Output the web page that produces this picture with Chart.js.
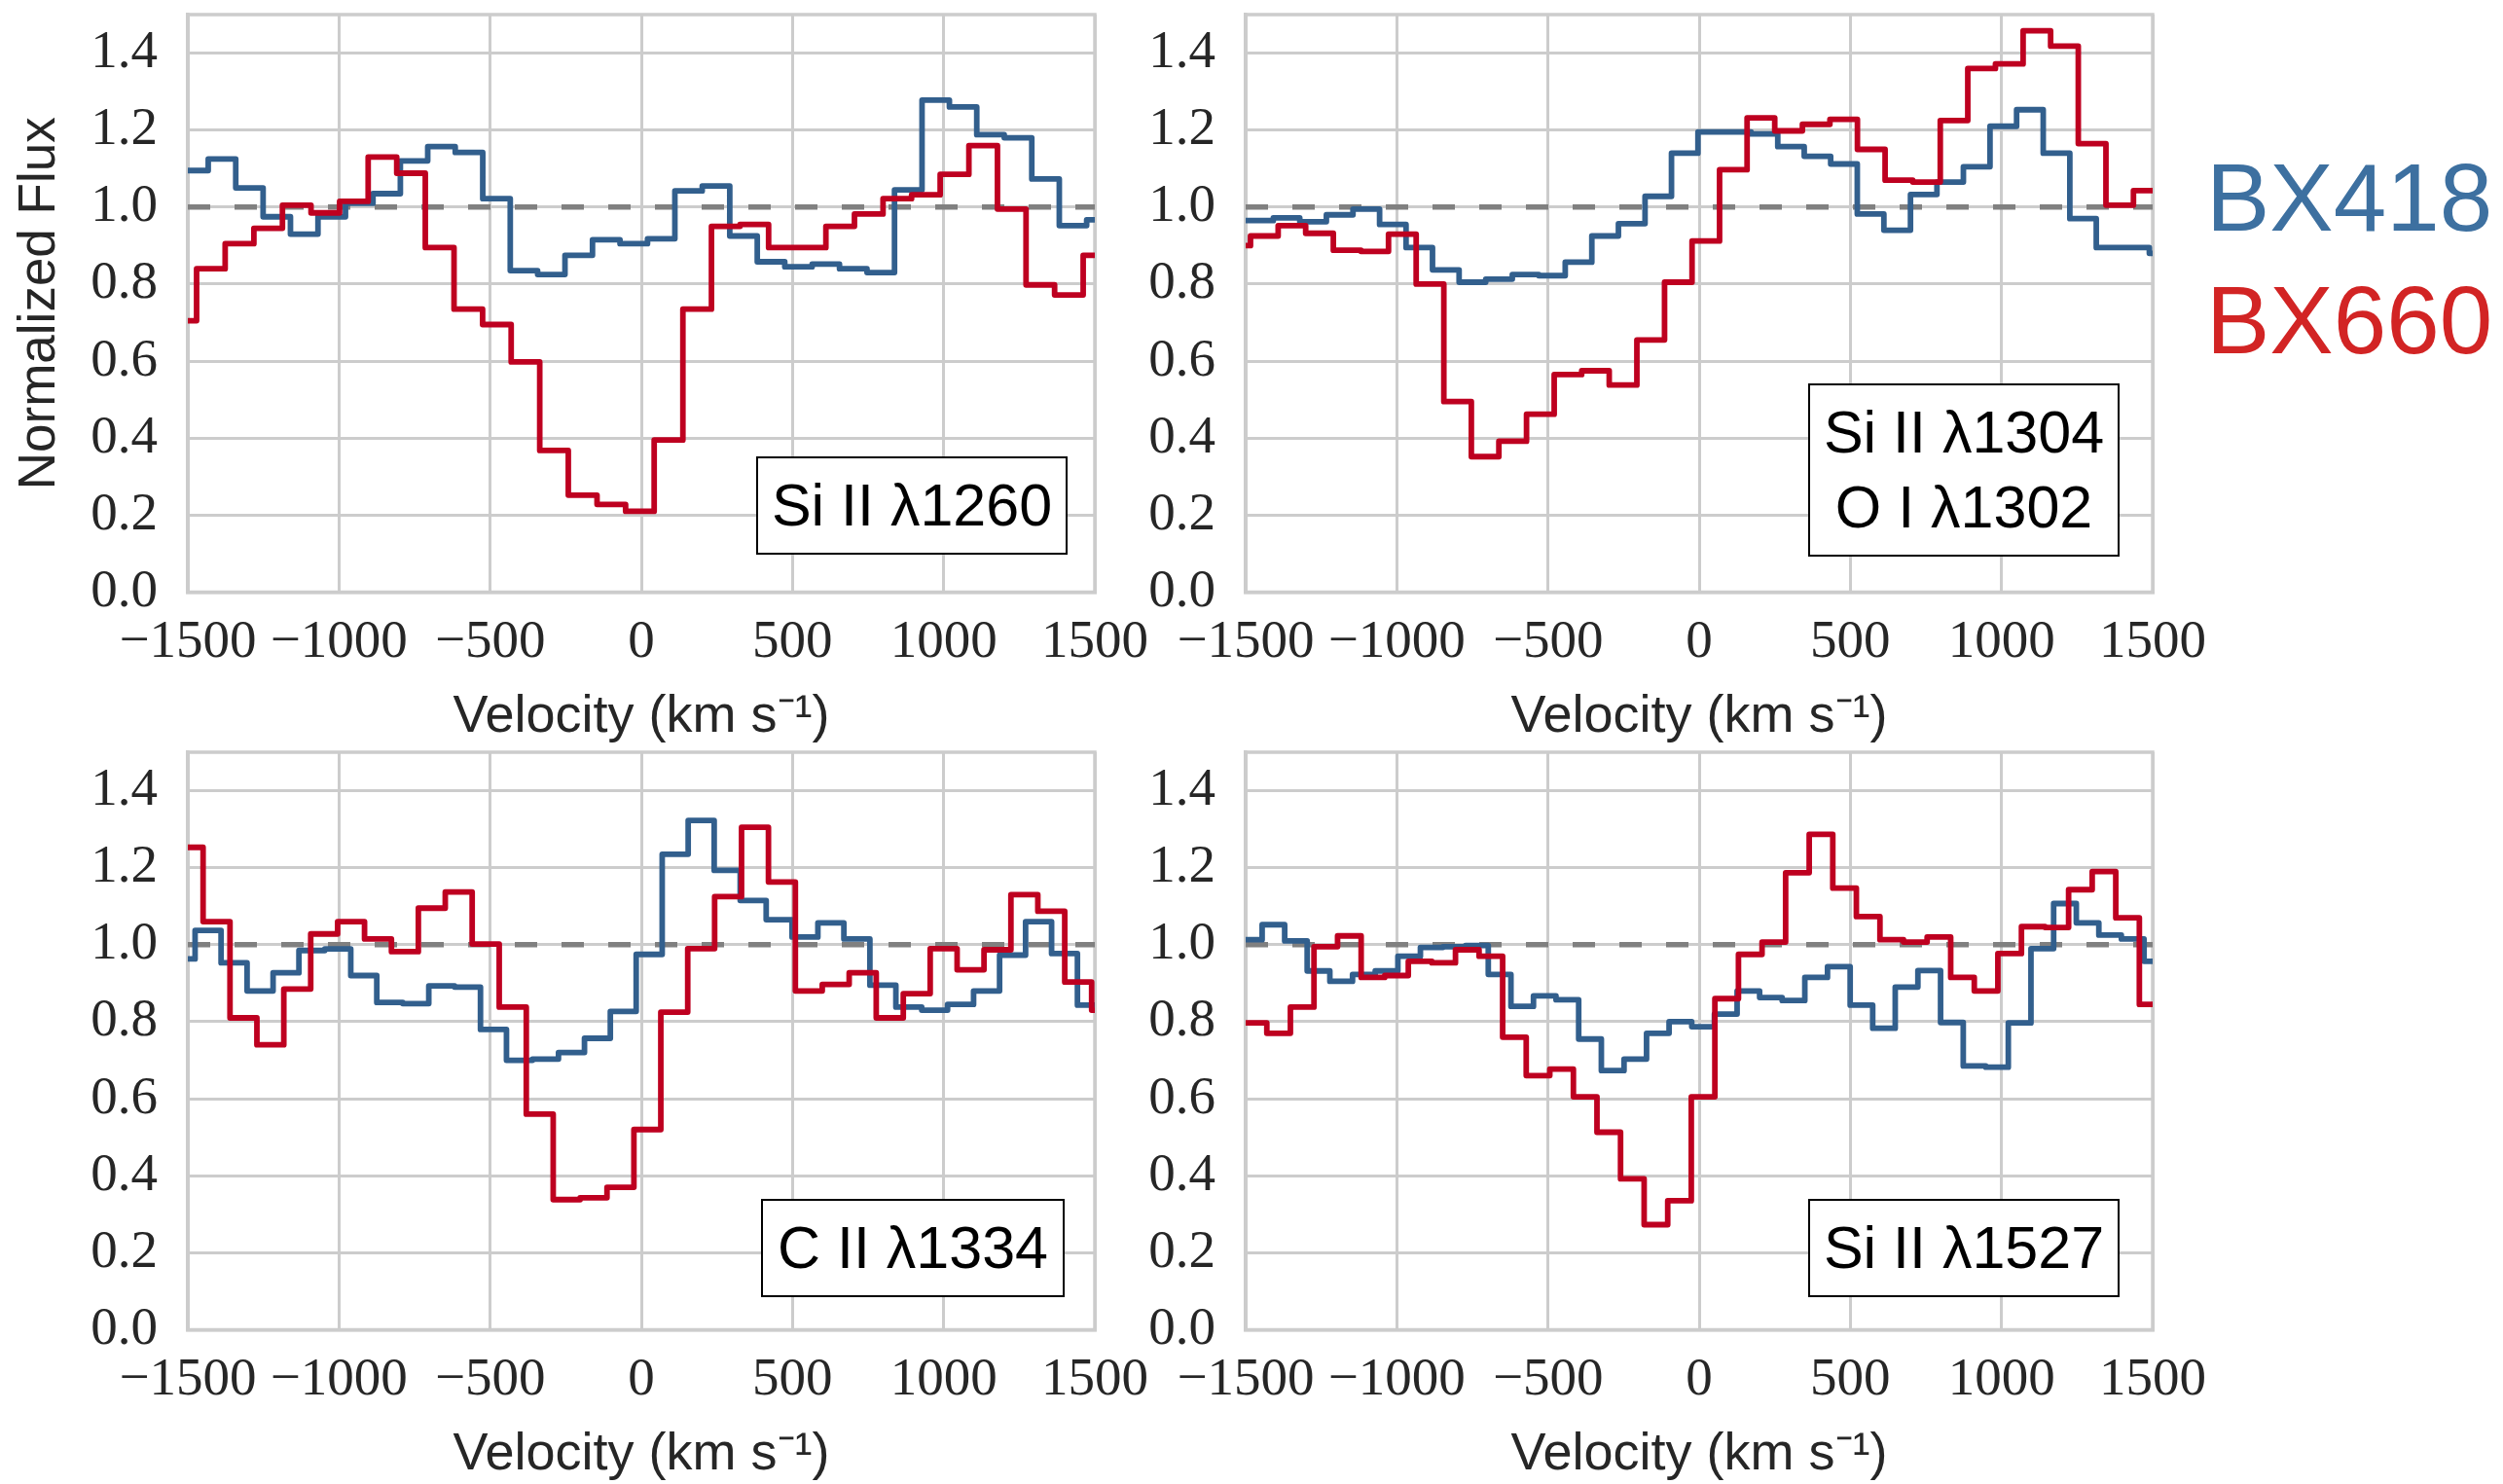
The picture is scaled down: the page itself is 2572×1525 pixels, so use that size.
<!DOCTYPE html>
<html>
<head>
<meta charset="utf-8">
<title>BX418 / BX660 low-ionization absorption profiles</title>
<script src="https://cdn.jsdelivr.net/npm/chart.js@4.4.1/dist/chart.umd.min.js"></script>
<style>
  html, body { margin: 0; padding: 0; background: #fff; overflow: hidden; }
  .panel { position: absolute; width: 1205px; height: 780px; }
  .ion {
    position: absolute; box-sizing: border-box; border: 2px solid #000; background: #fff;
    font-family: "Liberation Sans", Arial, sans-serif; font-size: 61px; line-height: 77px; color: #000;
    display: flex; flex-direction: column; align-items: center; justify-content: center;
  }
  .gal { position: absolute; left: 2267px; font-family: "Liberation Sans", Arial, sans-serif; font-size: 98px; line-height: 98px; }
</style>
</head>
<body>
<div class="panel" style="left:0px;top:0px"><canvas id="c1260"></canvas></div>
<div class="panel" style="left:1087px;top:0px"><canvas id="c1304"></canvas></div>
<div class="panel" style="left:0px;top:758px"><canvas id="c1334"></canvas></div>
<div class="panel" style="left:1087px;top:758px"><canvas id="c1527"></canvas></div>

<div class="ion" style="left:777px;top:469px;width:320px;height:101px"><div>Si II λ1260</div></div>
<div class="ion" style="left:1858px;top:394px;width:320px;height:178px"><div>Si II λ1304</div><div>O I λ1302</div></div>
<div class="ion" style="left:782px;top:1232px;width:312px;height:101px"><div>C II λ1334</div></div>
<div class="ion" style="left:1858px;top:1232px;width:320px;height:101px"><div>Si II λ1527</div></div>

<div class="gal" style="top:154px;color:#3d70a0">BX418</div>
<div class="gal" style="top:280px;color:#d22424">BX660</div>

<script>
const velTicks = [-1500, -1000, -500, 0, 500, 1000, 1500];
const fluxTicks = [0.0, 0.2, 0.4, 0.6, 0.8, 1.0, 1.2, 1.4];
const continuumVel = [-1500, 1500];
const continuumFlux = [1.0, 1.0];
const galaxies = ['BX418', 'BX660'];

// bin centres (km/s) and normalized flux

// Si II 1260
const vel1260_418 = [-1569, -1478, -1387, -1296, -1206, -1115, -1024, -933, -842, -752, -661, -570, -479, -388, -298, -207, -116, -25, 66, 156, 247, 338, 429, 520, 610, 701, 792, 883, 974, 1064, 1155, 1246, 1337, 1428, 1518];
const flux1260_418 = [1.095, 1.095, 1.125, 1.05, 0.975, 0.93, 0.975, 1.01, 1.035, 1.12, 1.157, 1.142, 1.022, 0.835, 0.825, 0.875, 0.915, 0.905, 0.918, 1.042, 1.055, 0.925, 0.858, 0.845, 0.852, 0.84, 0.83, 1.045, 1.278, 1.26, 1.188, 1.18, 1.073, 0.952, 0.967];
const vel1260_660 = [-1518, -1424, -1329, -1234, -1140, -1045, -951, -856, -762, -667, -572, -478, -383, -289, -194, -99, -5, 90, 185, 279, 374, 468, 563, 658, 752, 847, 941, 1036, 1131, 1225, 1320, 1414, 1509];
const flux1260_660 = [0.705, 0.84, 0.905, 0.945, 1.005, 0.985, 1.015, 1.13, 1.088, 0.895, 0.735, 0.695, 0.598, 0.368, 0.252, 0.228, 0.21, 0.395, 0.735, 0.95, 0.955, 0.895, 0.895, 0.95, 0.982, 1.022, 1.032, 1.085, 1.16, 0.995, 0.798, 0.772, 0.875];

// Si II 1304 / O I 1302
const vel1304_418 = [-1540, -1452, -1365, -1277, -1189, -1101, -1013, -926, -838, -750, -662, -574, -487, -399, -311, -223, -135, -48, 40, 128, 216, 304, 391, 479, 567, 655, 743, 830, 918, 1006, 1094, 1182, 1270, 1357, 1445, 1533];
const flux1304_418 = [0.965, 0.965, 0.972, 0.962, 0.98, 0.995, 0.955, 0.895, 0.837, 0.805, 0.813, 0.825, 0.822, 0.857, 0.925, 0.957, 1.028, 1.14, 1.195, 1.195, 1.19, 1.157, 1.132, 1.112, 0.982, 0.94, 1.033, 1.065, 1.105, 1.21, 1.253, 1.14, 0.97, 0.895, 0.895, 0.88];
const vel1304_660 = [-1530, -1438, -1347, -1256, -1164, -1073, -982, -890, -799, -708, -617, -525, -434, -343, -252, -160, -69, 22, 113, 204, 296, 387, 478, 569, 661, 752, 843, 934, 1026, 1117, 1208, 1300, 1391, 1482, 1574];
const flux1304_660 = [0.90, 0.925, 0.952, 0.932, 0.888, 0.885, 0.93, 0.80, 0.495, 0.352, 0.392, 0.462, 0.565, 0.575, 0.538, 0.655, 0.805, 0.912, 1.097, 1.232, 1.198, 1.215, 1.228, 1.15, 1.07, 1.065, 1.225, 1.36, 1.372, 1.458, 1.418, 1.165, 1.005, 1.043, 1.043];

// C II 1334
const vel1334_418 = [-1519, -1433, -1347, -1261, -1175, -1090, -1004, -918, -832, -746, -660, -575, -489, -403, -317, -231, -145, -60, 26, 112, 198, 284, 370, 456, 541, 627, 713, 799, 885, 970, 1056, 1142, 1228, 1314, 1400, 1485, 1571];
const flux1334_418 = [0.963, 1.037, 0.953, 0.88, 0.927, 0.985, 0.989, 0.92, 0.85, 0.847, 0.893, 0.89, 0.78, 0.70, 0.703, 0.72, 0.757, 0.827, 0.975, 1.235, 1.323, 1.193, 1.115, 1.065, 1.02, 1.057, 1.015, 0.895, 0.838, 0.83, 0.845, 0.88, 0.973, 1.06, 0.977, 0.843, 0.843];
const vel1334_660 = [-1583, -1494, -1405, -1316, -1227, -1138, -1049, -960, -871, -782, -693, -604, -515, -425, -336, -247, -158, -69, 20, 109, 198, 287, 376, 465, 554, 643, 732, 822, 911, 1000, 1089, 1178, 1267, 1356, 1445, 1534];
const flux1334_660 = [1.253, 1.253, 1.06, 0.81, 0.74, 0.885, 1.028, 1.06, 1.015, 0.982, 1.095, 1.137, 1.002, 0.838, 0.56, 0.338, 0.343, 0.37, 0.52, 0.825, 0.99, 1.125, 1.305, 1.163, 0.88, 0.897, 0.927, 0.81, 0.873, 0.99, 0.935, 0.987, 1.13, 1.087, 0.903, 0.83];

// Si II 1527
const vel1527_418 = [-1558, -1483, -1408, -1334, -1259, -1184, -1109, -1034, -959, -885, -810, -735, -660, -585, -511, -436, -361, -286, -211, -137, -62, 13, 88, 163, 237, 312, 387, 462, 537, 611, 686, 761, 836, 911, 985, 1060, 1135, 1210, 1285, 1359, 1434, 1509];
const flux1527_418 = [1.013, 1.013, 1.052, 1.01, 0.932, 0.905, 0.923, 0.932, 0.97, 0.993, 0.995, 0.998, 0.923, 0.84, 0.867, 0.857, 0.755, 0.673, 0.703, 0.77, 0.80, 0.787, 0.82, 0.88, 0.863, 0.855, 0.915, 0.943, 0.843, 0.783, 0.89, 0.933, 0.798, 0.685, 0.682, 0.797, 0.99, 1.107, 1.057, 1.025, 1.015, 0.957];
const vel1527_660 = [-1547, -1469, -1391, -1313, -1235, -1157, -1079, -1001, -923, -845, -767, -689, -611, -533, -455, -377, -299, -221, -143, -65, 13, 91, 169, 247, 325, 403, 481, 559, 637, 715, 793, 871, 949, 1027, 1105, 1183, 1261, 1339, 1417, 1495, 1573];
const flux1527_660 = [0.797, 0.797, 0.77, 0.838, 0.995, 1.023, 0.915, 0.92, 0.957, 0.953, 0.987, 0.97, 0.76, 0.66, 0.677, 0.605, 0.513, 0.392, 0.273, 0.335, 0.605, 0.86, 0.975, 1.007, 1.187, 1.287, 1.147, 1.073, 1.013, 1.007, 1.02, 0.915, 0.88, 0.977, 1.047, 1.045, 1.143, 1.19, 1.07, 0.845, 0.845];

const blue = '#325f8d';
const red = '#be0020';
const gridGrey = '#cccccc';
const textGrey = '#262626';

// top/right spines
const framePlugin = {
    id: 'frame',
    beforeDatasetsDraw(chart) {
        const {ctx, chartArea: a} = chart;
        ctx.save();
        ctx.strokeStyle = gridGrey;
        ctx.lineWidth = 3.5;
        ctx.strokeRect(a.left, a.top, a.right - a.left, a.bottom - a.top);
        ctx.restore();
    }
};

function toPoints(xs, ys) {
    return xs.map((x, i) => ({x: x, y: ys[i]}));
}

function stepLine(label, xs, ys, color) {
    return {
        label: label,
        data: toPoints(xs, ys),
        borderColor: color,
        borderWidth: 5.8,
        borderJoinStyle: 'round',
        stepped: 'middle',
        pointRadius: 0,
        fill: false
    };
}

function makePanel(id, v418, f418, v660, f660, showYTitle) {
    new Chart(document.getElementById(id), {
        type: 'line',
        data: {
            datasets: [
                stepLine(galaxies[1], v660, f660, red),
                stepLine(galaxies[0], v418, f418, blue),
                {
                    label: 'continuum',
                    data: toPoints(continuumVel, continuumFlux),
                    borderColor: '#808080',
                    borderWidth: 5.5,
                    borderDash: [23, 25],
                    pointRadius: 0,
                    fill: false
                }
            ]
        },
        options: {
            responsive: true,
            maintainAspectRatio: false,
            animation: false,
            events: [],
            layout: { padding: { top: 15, right: 80, bottom: 0, left: 0 }, autoPadding: false },
            plugins: { legend: { display: false }, tooltip: { enabled: false } },
            scales: {
                x: {
                    type: 'linear', min: -1500, max: 1500,
                    afterBuildTicks: s => { s.ticks = velTicks.map(v => ({value: v})); },
                    afterFit: s => { s.height = 171.5; s.paddingLeft = 0; s.paddingRight = 0; },
                    grid: { color: gridGrey, lineWidth: 3, drawTicks: false },
                    border: { color: gridGrey, width: 3.5 },
                    ticks: {
                        autoSkip: false, maxRotation: 0, minRotation: 0, padding: 19.5,
                        color: textGrey, font: { family: 'Liberation Serif', size: 55 },
                        callback: v => v < 0 ? '\u2212' + Math.abs(v) : String(v)
                    },
                    title: {
                        display: true, text: 'Velocity (km s\u207B\u00B9)', color: textGrey,
                        font: { family: 'Liberation Sans', size: 54 },
                        padding: { top: 0, bottom: 10.9 }
                    }
                },
                y: {
                    type: 'linear', min: 0, max: 1.5,
                    afterBuildTicks: s => { s.ticks = fluxTicks.map(v => ({value: v})); },
                    afterFit: s => { s.width = 193; s.paddingTop = 0; s.paddingBottom = 0; },
                    grid: { color: gridGrey, lineWidth: 3, drawTicks: false },
                    border: { color: gridGrey, width: 3.5 },
                    ticks: {
                        padding: 31, color: textGrey, font: { family: 'Liberation Serif', size: 55 },
                        callback: v => v.toFixed(1)
                    },
                    title: {
                        display: showYTitle, text: 'Normalized Flux', color: textGrey,
                        font: { family: 'Liberation Sans', size: 53 },
                        padding: { top: 10, bottom: 0 }
                    }
                }
            }
        },
        plugins: [framePlugin]
    });
}

makePanel('c1260', vel1260_418, flux1260_418, vel1260_660, flux1260_660, true);
makePanel('c1304', vel1304_418, flux1304_418, vel1304_660, flux1304_660, false);
makePanel('c1334', vel1334_418, flux1334_418, vel1334_660, flux1334_660, false);
makePanel('c1527', vel1527_418, flux1527_418, vel1527_660, flux1527_660, false);
</script>
</body>
</html>
